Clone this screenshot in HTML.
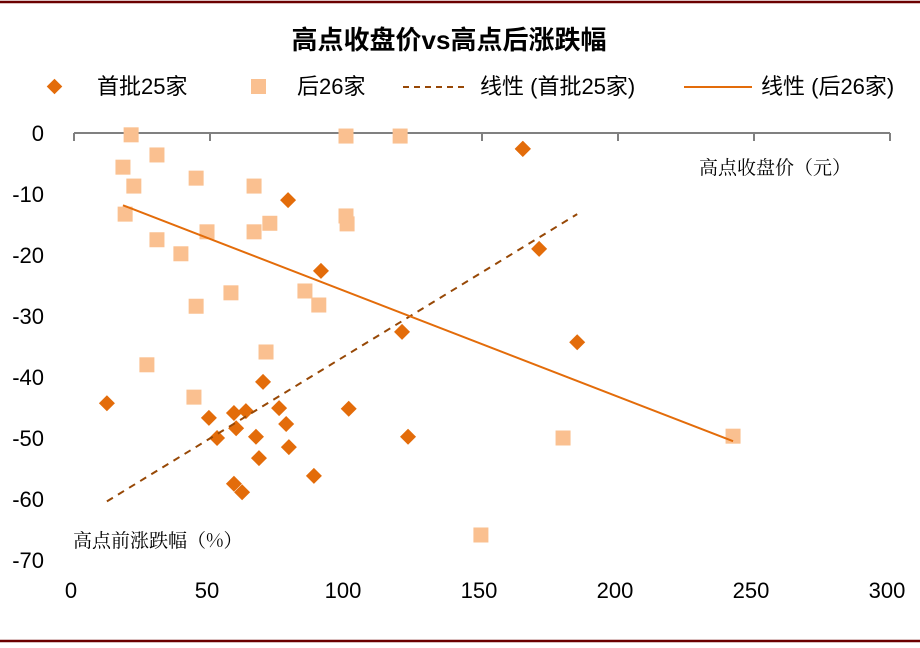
<!DOCTYPE html>
<html><head><meta charset="utf-8"><style>
body{margin:0;background:#fff;}
svg text{font-family:"Liberation Sans","Noto Sans CJK SC",sans-serif;}
</style></head><body>
<svg id="chart" width="920" height="643" viewBox="0 0 920 643" xmlns="http://www.w3.org/2000/svg">
<rect x="0" y="0" width="920" height="643" fill="#fff"/>
<line x1="0" y1="2" x2="920" y2="2" stroke="#6b0000" stroke-width="2.5"/>
<line x1="0" y1="641" x2="920" y2="641" stroke="#6b0000" stroke-width="2.5"/>
<text x="449" y="49" text-anchor="middle" font-size="26" font-weight="bold" fill="#000">高点收盘价vs高点后涨跌幅</text>
<g>
<g>
<rect x="49" y="81" width="11" height="11" fill="#e36c0a" transform="rotate(45 54.5 86.5)"/>
<text x="97" y="94" font-size="22">首批25家</text></g>
<g>
<rect x="251" y="79" width="15" height="15" fill="#fac090"/>
<text x="297" y="94" font-size="22">后26家</text></g>
<g>
<line x1="403" y1="87" x2="468" y2="87" stroke="#974806" stroke-width="2" stroke-dasharray="6,5"/>
<text x="480" y="94" font-size="22">线性 (首批25家)</text></g>
<g>
<line x1="684" y1="87" x2="752" y2="87" stroke="#e36c0a" stroke-width="2"/>
<text x="761" y="94" font-size="22">线性 (后26家)</text></g>
</g>
<g id="axes"></g>
<g id="marks"></g>
<text x="699" y="174" font-size="19" style="font-family:'Noto Serif CJK SC',serif">高点收盘价（元）</text>
<text x="73" y="547" font-size="19" style="font-family:'Noto Serif CJK SC',serif">高点前涨跌幅（%）</text>
</svg>
<script>
const xTicks=[0,50,100,150,200,250,300];
const yTicks=[0,-10,-20,-30,-40,-50,-60,-70];
const first25X=[12.1,165,165,165,78.7,90.8,171,120.6,185,69.5,49.6,58.8,63.2,75.4,101,52.6,59.6,78,66.9,79,122.8,68,88.2,58.8,61.8];
const first25Y=[-44.3,-2.6,-2.6,-2.6,-11,-22.6,-19,-32.6,-34.3,-40.8,-46.7,-45.9,-45.6,-45.1,-45.2,-50,-48.4,-47.7,-49.8,-51.5,-49.8,-53.3,-56.2,-57.5,-58.9];
const later26X=[21,100,119.9,30.5,18,44.9,22,66.2,18.8,100,100.4,72,48.9,66.2,30.5,39.3,57.7,84.9,90,44.9,70.6,26.8,44.1,179.8,242.3,149.6];
const later26Y=[-0.3,-0.5,-0.5,-3.6,-5.6,-7.4,-8.7,-8.7,-13.3,-13.6,-14.9,-14.8,-16.2,-16.2,-17.5,-19.8,-26.2,-25.9,-28.2,-28.4,-35.9,-38,-43.3,-50,-49.7,-65.9];
const NS='http://www.w3.org/2000/svg';
const sx=v=>74+v*2.72;
const sy=v=>133-v*6.1;
function mk(t,a,p){const e=document.createElementNS(NS,t);for(const k in a)e.setAttribute(k,a[k]);p.appendChild(e);return e;}
const axes=document.getElementById('axes'),marks=document.getElementById('marks');
const ax=mk('line',{x1:sx(0),y1:sy(0),x2:sx(300),y2:sy(0),stroke:'#808080','stroke-width':2},axes);


xTicks.forEach(v=>{
 const t=mk('line',{x1:sx(v),y1:sy(0),x2:sx(v),y2:sy(0)+8,stroke:'#808080','stroke-width':2},axes);
 
 
 const l=mk('text',{x:sx(v)-3,y:598,'text-anchor':'middle','font-size':22},axes);l.textContent=v;
 
 
});
yTicks.forEach(v=>{
 const l=mk('text',{x:44,y:sy(v)+8,'text-anchor':'end','font-size':22},axes);l.textContent=v;
 
 
});
function fit(X,Y){const n=X.length;let mx=0,my=0;for(let i=0;i<n;i++){mx+=X[i];my+=Y[i];}mx/=n;my/=n;let sxy=0,sxx=0;for(let i=0;i<n;i++){sxy+=(X[i]-mx)*(Y[i]-my);sxx+=(X[i]-mx)**2;}const b=sxy/sxx,a=my-b*mx;const x0=Math.min(...X),x1=Math.max(...X);return [x0,a+b*x0,x1,a+b*x1];}
later26X.forEach((x,i)=>{
 const r=mk('rect',{x:sx(x)-7.5,y:sy(later26Y[i])-7.5,width:15,height:15,fill:'#fac090'},marks);
 
 
});
first25X.forEach((x,i)=>{
 const cx=sx(x),cy=sy(first25Y[i]);
 const p=mk('polygon',{points:`${cx},${cy-8} ${cx+8},${cy} ${cx},${cy+8} ${cx-8},${cy}`,fill:'#e36c0a'},marks);
 
 
});
let f=fit(first25X,first25Y);
const d=mk('line',{x1:sx(f[0]),y1:sy(f[1]),x2:sx(f[2]),y2:sy(f[3]),stroke:'#974806','stroke-width':2,'stroke-dasharray':'7,6'},marks);


f=fit(later26X,later26Y);
const s=mk('line',{x1:sx(f[0]),y1:sy(f[1]),x2:sx(f[2]),y2:sy(f[3]),stroke:'#e36c0a','stroke-width':2},marks);


</script>
</body></html>
